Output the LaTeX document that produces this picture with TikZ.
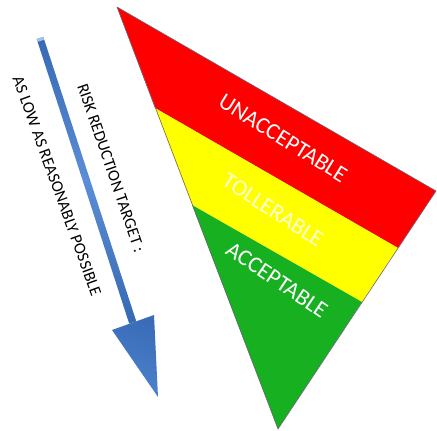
\documentclass[tikz,border=0pt]{standalone}
\usepackage{fontspec}
\setmainfont{Carlito}
\definecolor{rred}{RGB}{255,0,0}
\definecolor{ryellow}{RGB}{255,255,0}
\definecolor{rgreen}{RGB}{22,176,32}
\definecolor{edgegray}{RGB}{110,100,120}
\definecolor{arrowdark}{RGB}{55,105,180}
\definecolor{arrowmid}{RGB}{78,130,205}
\definecolor{arrowlight}{RGB}{92,142,215}
\definecolor{paleyellow}{RGB}{255,255,215}
\tikzset{
  bandlabel/.style={font=\fontsize{23}{27}\selectfont, text=white, inner sep=0pt},
  sidelabel/.style={font=\fontsize{16.5}{20}\selectfont, text=black, inner sep=0pt},
  shaftfill/.style={left color=arrowdark, right color=arrowdark, middle color=arrowlight},
  headfill/.style={left color=arrowdark!90!arrowmid, right color=arrowmid}
}
\begin{document}
\begin{tikzpicture}[x=1pt,y=-1pt]
\useasboundingbox (0,0) rectangle (437,431);
% triangle corners
\coordinate (T) at (117,7);
\coordinate (R) at (436,191);
\coordinate (B) at (278,429);
\coordinate (L1) at (155,108);
\coordinate (R1) at (398,248);
\coordinate (L2) at (192,205);
\coordinate (R2) at (362,302);
% bands
\fill[rred] (T) -- (R) -- (R1) -- (L1) -- cycle;
\fill[ryellow] (L1) -- (R1) -- (R2) -- (L2) -- cycle;
\fill[rgreen] (L2) -- (R2) -- (B) -- cycle;
\draw[edgegray, line width=0.6pt, line join=round] (T) -- (R) -- (B) -- cycle;
% band labels
\node[bandlabel, rotate=-32] (unacc) at (283,138) {UNACCEPTABLE};
\node[bandlabel, rotate=-33, text=paleyellow] (toll) at (273,210) {TOLLERABLE};
\node[bandlabel, rotate=-34] (acc) at (277,280) {ACCEPTABLE};
% blue arrow
\coordinate (S1) at (36.7,39.1);
\coordinate (S2) at (43.3,36.9);
\coordinate (S3) at (136.3,321.4);
\coordinate (S4) at (129.2,323.6);
\coordinate (H1) at (112,330);
\coordinate (H2) at (154,315);
\coordinate (Tip) at (158,397);
\coordinate (C1) at (37.6,41.9);
\coordinate (C2) at (44.2,39.7);
\shade[shaftfill, shading angle=-18] (S1) -- (S2) -- (S3) -- (S4) -- cycle;
\shade[headfill, shading angle=-18] (H1) -- (H2) -- (Tip) -- cycle;
\fill[arrowlight!55!white] (S1) -- (S2) -- (C2) -- (C1) -- cycle;
% side labels
\node[sidelabel, rotate=-71] (risk) at (111,168) {RISK REDUCTION TARGET :};
\node[sidelabel, rotate=-70] (alarp) at (57,186) {AS LOW AS REASONABLY POSSIBLE};
\end{tikzpicture}
\end{document}
